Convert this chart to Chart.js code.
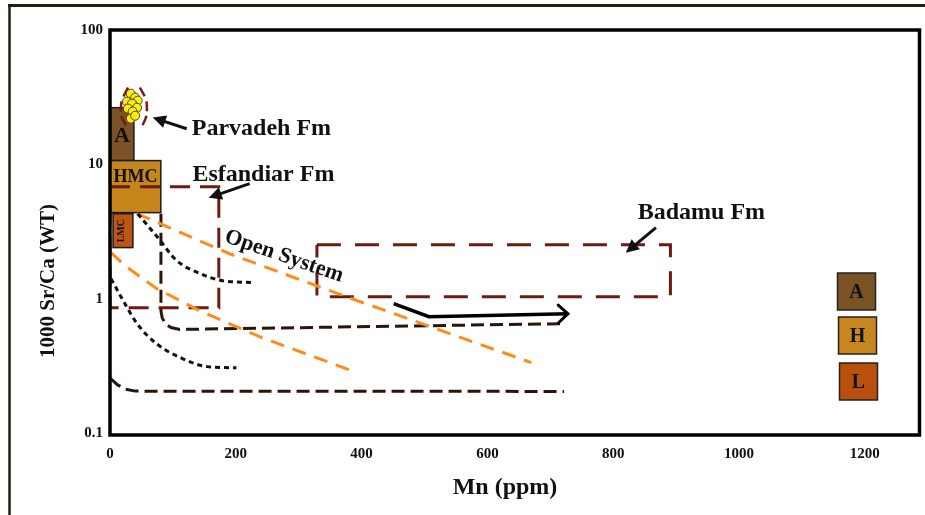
<!DOCTYPE html>
<html><head><meta charset="utf-8">
<script src="https://cdn.jsdelivr.net/npm/chart.js@4.4.1/dist/chart.umd.min.js"></script>
<style>html,body{margin:0;padding:0;background:#fff}#wrap{width:925px;height:515px}</style>
</head><body><div id="wrap"><canvas id="c" width="925" height="515"></canvas></div>
<script>
// ---- axes ----
const xTicks = [0, 200, 400, 600, 800, 1000, 1200];
const yTicks = [0.1, 1, 10, 100];
const xTitle = 'Mn (ppm)';
const yTitle = '1000 Sr/Ca (WT)';

// ---- carbonate fields (filled boxes) ----
const boxLabels = ['A', 'HMC', 'LMC'];
const boxX0 = [0, 0, 4.8];
const boxX1 = [38, 80.8, 36.4];
const boxY0 = [10.66, 4.37, 2.40];
const boxY1 = [26.4, 10.66, 4.29];

// ---- Parvadeh Fm samples ----
const dotX = [33, 40, 27, 44, 35, 43, 28.5, 36, 33, 40];
const dotY = [33.6, 31.4, 29.3, 29.8, 28.3, 26.4, 26.0, 24.7, 21.9, 23.0];
const arcLX = [28.5, 19, 17.4, 19, 28.5];
const arcLY = [37.3, 29.8, 26.0, 22.3, 18.5];
const arcRX = [47.5, 57, 58.6, 57, 49];
const arcRY = [37.3, 30.3, 26.0, 22.3, 18.5];

// ---- formation fields (dashed boxes) ----
const esfX = [0, 173, 173, 0, 0];
const esfY = [6.82, 6.82, 0.857, 0.857, 6.82];
const badX = [329, 891, 891, 329, 329];
const badY = [2.52, 2.52, 1.035, 1.035, 2.52];

// ---- trend curves ----
const l1X = [81, 81, 83, 88, 97, 111, 717];
const l1Y = [4.29, 0.81, 0.72, 0.65, 0.61, 0.59, 0.651];
const l2X = [0.5, 12, 25, 40, 722];
const l2Y = [0.255, 0.228, 0.212, 0.205, 0.204];
const d1X = [44, 76, 106, 143, 179, 225];
const d1Y = [4.29, 2.85, 1.92, 1.54, 1.36, 1.32];
const d2X = [1.6, 21, 43, 74, 116, 154, 201];
const d2Y = [1.41, 0.966, 0.652, 0.462, 0.357, 0.312, 0.306];
const o1X = [42.8, 190, 380, 670];
const o1Y = [4.30, 2.16, 1.017, 0.334];
const o2X = [1.6, 23.8, 74.4, 142.5, 237.5, 380];
const o2Y = [2.20, 1.76, 1.187, 0.814, 0.521, 0.296];
const arrX = [451, 507, 728];
const arrY = [0.918, 0.734, 0.773];

// ---- annotations ----
const noteTexts = ['Parvadeh Fm', 'Esfandiar Fm', 'Badamu Fm'];
const noteX = [130, 131, 839];
const noteY = [16.4, 7.56, 3.94];
const pointerTailX = [122, 222, 868];
const pointerTailY = [18.4, 7.18, 3.38];
const pointerTipX = [68, 157, 820];
const pointerTipY = [22.3, 5.65, 2.20];
const openText = 'Open System';
const openX = 180.5, openY = 2.66;

// ---- legend ----
const legendLabels = ['A', 'H', 'L'];

// styles (kept apart from data)
const boxColors = ['#7b5126', '#c5861c', '#bd5514'];
const legendColors = ['#7b5126', '#c8861e', '#b9500c'];
const SERIF = "'Liberation Serif', 'Times New Roman', serif";

const pts = (xs, ys) => xs.map((x, i) => ({x: x, y: ys[i]}));

function lineDs(xs, ys, color, width, dash, extra) {
  return Object.assign({
    data: pts(xs, ys), borderColor: color, borderWidth: width, borderDash: dash,
    pointRadius: 0, fill: false, tension: 0, showLine: true, borderCapStyle: 'butt'
  }, extra || {});
}

const datasets = [
  {data: pts(dotX, dotY), showLine: false, pointRadius: 4.5, pointBackgroundColor: '#ffee00',
   pointBorderColor: '#444', pointBorderWidth: 1},
  lineDs(arcLX, arcLY, '#7d1a16', 2.5, [10, 5], {tension: 0.45}),
  lineDs(arcRX, arcRY, '#7d1a16', 2.5, [10, 5], {tension: 0.45}),
  lineDs(arrX, arrY, '#000', 3.5, [], {borderJoinStyle: 'miter'}),
  lineDs(d1X, d1Y, '#111', 3, [5, 4], {cubicInterpolationMode: 'monotone'}),
  lineDs(d2X, d2Y, '#111', 3, [5, 4], {cubicInterpolationMode: 'monotone'}),
  lineDs(o1X, o1Y, '#ff8c1a', 3, [14, 9]),
  lineDs(o2X, o2Y, '#ff8c1a', 3, [14, 9]),
  lineDs(l1X, l1Y, '#2b140a', 3, [13, 6]),
  lineDs(l2X, l2Y, '#2b140a', 3, [13, 6]),
  lineDs(esfX, esfY, '#6b1b12', 3, [20, 10]),
  lineDs(badX, badY, '#6b1b12', 3, [24, 14])
];
const ARROW_IDX = 3;

function arrowHead(ctx, x0, y0, x1, y1, len, half) {
  const a = Math.atan2(y1 - y0, x1 - x0);
  ctx.beginPath();
  ctx.moveTo(x1, y1);
  ctx.lineTo(x1 - len * Math.cos(a) + half * Math.sin(a), y1 - len * Math.sin(a) - half * Math.cos(a));
  ctx.lineTo(x1 - len * Math.cos(a) - half * Math.sin(a), y1 - len * Math.sin(a) + half * Math.cos(a));
  ctx.closePath();
  ctx.fill();
}

const custom = {
  id: 'custom',
  beforeDraw(chart) {
    const ctx = chart.ctx;
    ctx.save();
    ctx.fillStyle = '#fff';
    ctx.fillRect(0, 0, chart.width, chart.height);
    ctx.strokeStyle = '#2a1a10';
    ctx.lineWidth = 3;
    ctx.beginPath(); ctx.moveTo(8, 5.5); ctx.lineTo(chart.width, 5.5); ctx.stroke();
    ctx.lineWidth = 2.5;
    ctx.beginPath(); ctx.moveTo(9.5, 4); ctx.lineTo(9.5, chart.height); ctx.stroke();
    ctx.restore();
  },
  beforeDatasetsDraw(chart) {
    const ctx = chart.ctx, sx = chart.scales.x, sy = chart.scales.y;
    ctx.save();
    for (let i = 0; i < boxLabels.length; i++) {
      const l = sx.getPixelForValue(boxX0[i]), r = sx.getPixelForValue(boxX1[i]);
      const t = sy.getPixelForValue(boxY1[i]), b = sy.getPixelForValue(boxY0[i]);
      ctx.fillStyle = boxColors[i];
      ctx.fillRect(l, t, r - l, b - t);
      ctx.strokeStyle = '#1a1a1a'; ctx.lineWidth = 1.5;
      ctx.strokeRect(l, t, r - l, b - t);
      ctx.fillStyle = '#111';
      ctx.textAlign = 'center'; ctx.textBaseline = 'middle';
      const cx = (l + r) / 2, cy = (t + b) / 2;
      if (i === 0) { ctx.font = 'bold 22px ' + SERIF; ctx.fillText(boxLabels[i], cx, cy + 2); }
      else if (i === 1) { ctx.font = 'bold 18px ' + SERIF; ctx.fillText(boxLabels[i], cx, cy - 9); }
      else {
        ctx.save(); ctx.translate(cx - 2, cy); ctx.rotate(-Math.PI / 2);
        ctx.font = 'bold 10px ' + SERIF; ctx.fillText(boxLabels[i], 0, 0); ctx.restore();
      }
    }
    ctx.restore();
  },
  afterDatasetsDraw(chart) {
    const ctx = chart.ctx, sx = chart.scales.x, sy = chart.scales.y, ca = chart.chartArea;
    ctx.save();
    // plot frame
    ctx.strokeStyle = '#000'; ctx.lineWidth = 3.5;
    ctx.strokeRect(ca.left, ca.top, ca.right - ca.left, ca.bottom - ca.top + 2);
    // open chevron at the end of the black arrow
    const pm = chart.getDatasetMeta(ARROW_IDX).data;
    const p1 = pm[pm.length - 2], p2 = pm[pm.length - 1];
    const a = Math.atan2(p2.y - p1.y, p2.x - p1.x);
    ctx.lineWidth = 3; ctx.lineCap = 'round';
    ctx.beginPath();
    ctx.moveTo(p2.x - 13 * Math.cos(a - 0.75), p2.y - 13 * Math.sin(a - 0.75));
    ctx.lineTo(p2.x, p2.y);
    ctx.lineTo(p2.x - 13 * Math.cos(a + 0.75), p2.y - 13 * Math.sin(a + 0.75));
    ctx.stroke();
    // annotation texts and pointers
    ctx.fillStyle = '#111';
    ctx.font = 'bold 24px ' + SERIF;
    ctx.textAlign = 'left'; ctx.textBaseline = 'alphabetic';
    for (let i = 0; i < noteTexts.length; i++) {
      ctx.fillText(noteTexts[i], sx.getPixelForValue(noteX[i]), sy.getPixelForValue(noteY[i]));
      const tx = sx.getPixelForValue(pointerTailX[i]), ty = sy.getPixelForValue(pointerTailY[i]);
      const hx = sx.getPixelForValue(pointerTipX[i]), hy = sy.getPixelForValue(pointerTipY[i]);
      const ang = Math.atan2(hy - ty, hx - tx);
      ctx.strokeStyle = '#111'; ctx.lineWidth = 3; ctx.lineCap = 'butt';
      ctx.beginPath(); ctx.moveTo(tx, ty); ctx.lineTo(hx - 8 * Math.cos(ang), hy - 8 * Math.sin(ang)); ctx.stroke();
      arrowHead(ctx, tx, ty, hx, hy, 13, 6.5);
    }
    // Open System
    ctx.save();
    ctx.translate(sx.getPixelForValue(openX), sy.getPixelForValue(openY));
    ctx.rotate(19 * Math.PI / 180);
    ctx.font = 'bold 22px ' + SERIF;
    ctx.fillText(openText, 0, 0);
    ctx.restore();
    // legend
    const lx = ca.right - 82, lw = 38, lh = 37;
    const lt = [273, 317, 363];
    for (let i = 0; i < legendLabels.length; i++) {
      ctx.fillStyle = legendColors[i];
      ctx.fillRect(lx + i, lt[i], lw, lh);
      ctx.strokeStyle = '#222'; ctx.lineWidth = 1.5;
      ctx.strokeRect(lx + i, lt[i], lw, lh);
      ctx.fillStyle = '#111'; ctx.font = 'bold 20px ' + SERIF;
      ctx.textAlign = 'center'; ctx.textBaseline = 'middle';
      ctx.fillText(legendLabels[i], lx + i + lw / 2, lt[i] + lh / 2 + 1);
    }
    // axis titles
    ctx.fillStyle = '#111';
    ctx.textAlign = 'center'; ctx.textBaseline = 'alphabetic';
    ctx.font = 'bold 24px ' + SERIF;
    ctx.fillText(xTitle, 505, 494);
    ctx.save();
    ctx.translate(54, 281); ctx.rotate(-Math.PI / 2);
    ctx.font = 'bold 21px ' + SERIF;
    ctx.fillText(yTitle, 0, 0);
    ctx.restore();
    ctx.restore();
  }
};

new Chart(document.getElementById('c'), {
  type: 'line',
  data: {datasets: datasets},
  options: {
    responsive: false, animation: false, events: [],
    layout: {padding: {top: 30, right: 3, left: 0, bottom: 0}},
    plugins: {legend: {display: false}, tooltip: {enabled: false}},
    scales: {
      x: {
        type: 'linear', min: 0, max: 1287,
        grid: {display: false, drawTicks: false}, border: {display: false},
        afterBuildTicks: s => { s.ticks = xTicks.map(v => ({value: v})); },
        afterFit: s => { s.height = 82; },
        ticks: {color: '#111', padding: 12, font: {family: SERIF, size: 15, weight: 'bold'},
                maxRotation: 0, autoSkip: false, callback: v => String(v)}
      },
      y: {
        type: 'logarithmic', min: 0.1, max: 100,
        grid: {display: false, drawTicks: false}, border: {display: false},
        afterBuildTicks: s => { s.ticks = yTicks.map(v => ({value: v})); },
        afterFit: s => { s.width = 110; },
        ticks: {color: '#111', padding: 7, font: {family: SERIF, size: 15, weight: 'bold'},
                autoSkip: false, callback: v => String(v)}
      }
    }
  },
  plugins: [custom]
});
</script></body></html>
